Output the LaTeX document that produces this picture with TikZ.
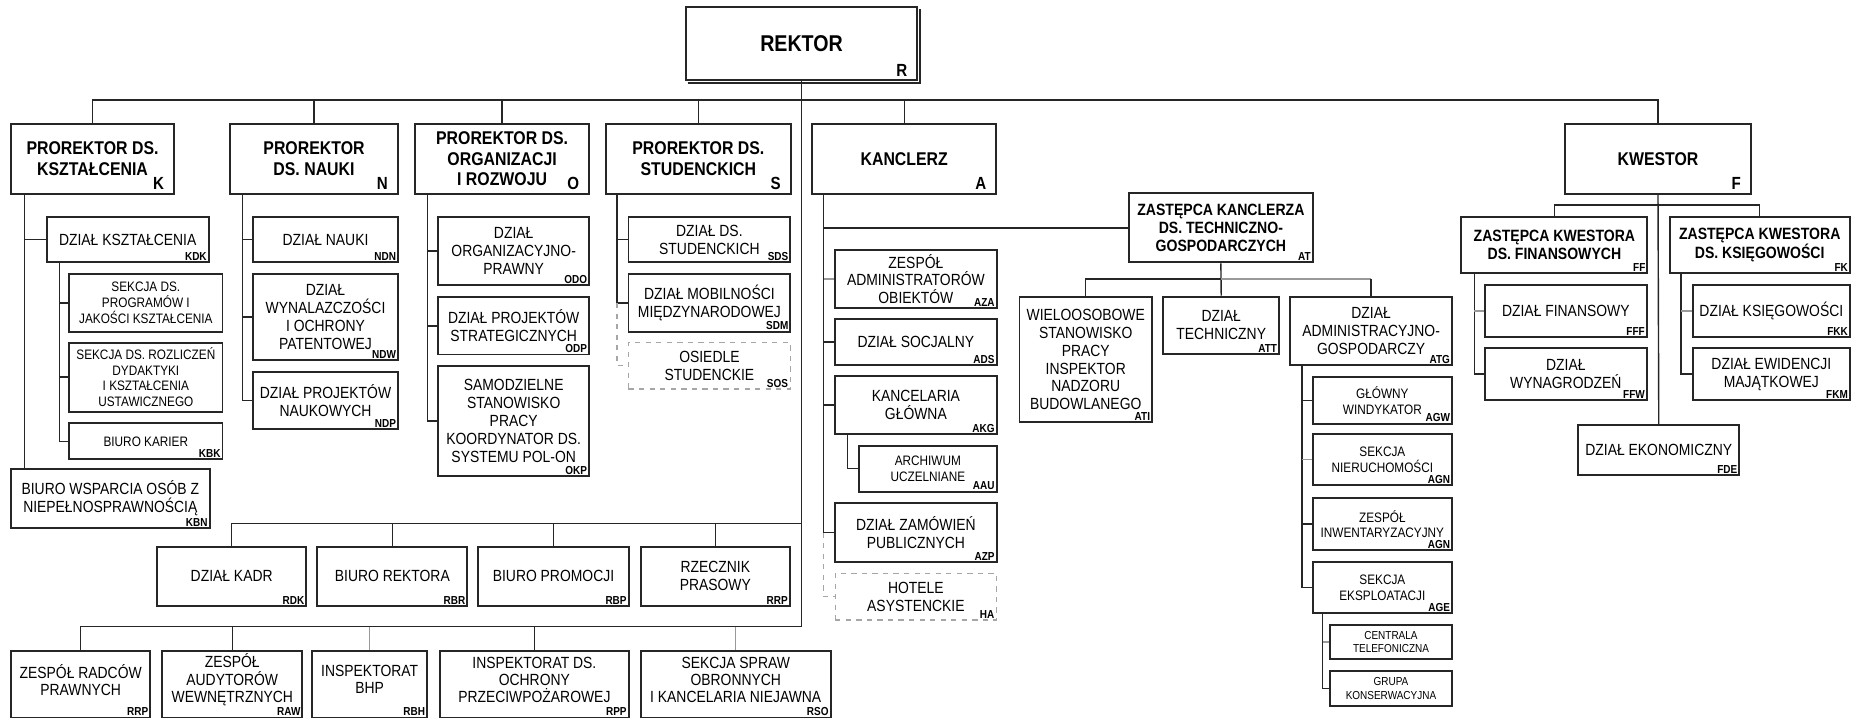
\documentclass[tikz,border=0pt]{standalone}
\usepackage{fontspec}
\setmainfont{Liberation Sans}[FakeStretch=0.86]
\usetikzlibrary{fit}

\tikzset{
  box/.style={draw=black!85, line width=1.1pt, fill=white, inner sep=0pt},
  plan/.style={draw=black!35, line width=0.8pt, dashed},
  link/.style={draw=black!85, line width=0.8pt},
  pale/.style={draw=black!40, line width=0.8pt},
  paledash/.style={draw=black!35, line width=0.8pt, dashed},
  rektortxt/.style={font=\bfseries\fontsize{13}{15}\selectfont, align=center, inner sep=0pt},
  chieftxt/.style={font=\bfseries\fontsize{10.5}{11.8}\selectfont, align=center, inner sep=0pt},
  headtxt/.style={font=\bfseries\fontsize{9.3}{10.4}\selectfont, align=center, inner sep=0pt},
  depttxt/.style={font=\fontsize{9.2}{10.2}\selectfont, align=center, inner sep=0pt},
  lowtxt/.style={font=\fontsize{9.2}{9.8}\selectfont, align=center, inner sep=0pt, yshift=2.5pt},
  minortxt/.style={font=\fontsize{7.8}{9}\selectfont, align=center, inner sep=0pt},
  tinytxt/.style={font=\fontsize{6.6}{7.6}\selectfont, align=center, inner sep=0pt},
  codetxt/.style={font=\bfseries\fontsize{6.6}{7}\selectfont, anchor=south east, inner xsep=1.5pt, inner ysep=1.3pt},
  bigcodetxt/.style={font=\bfseries\fontsize{10}{11}\selectfont, anchor=south east, inner xsep=6pt, inner ysep=2.5pt}
}

% name, corners, text, code
\newcommand{\chiefbox}[8][chieftxt]{%
  \node[box, fit={(#3,#4) (#5,#6)}] (#2) {};
  \node[#1] (#2-t) at (#2.center) {#7};
  \node[bigcodetxt] (#2-c) at (#2.south east) {#8};%
}
% [box style], name, corners, text style, text, code
\newcommand{\orgbox}[9][]{%
  \node[box, #1, fit={(#3,#4) (#5,#6)}] (#2) {};
  \node[#7] (#2-t) at (#2.center) {#8};
  \node[codetxt] (#2-c) at (#2.south east) {#9};%
}

\begin{document}
\begin{tikzpicture}[x=0.0236cm, y=-0.0236cm]
  \fill[white] (0,0) rectangle (1568,607.4);
  \useasboundingbox (0,0) rectangle (1568,607.4);

  % top level
  \chiefbox[rektortxt]{rek}{581}{6}{777}{68}{REKTOR}{R}
  \draw[black!85, line width=1.2pt] ([xshift=1.5pt,yshift=-1.1pt]rek.south west) -- ([xshift=1.1pt,yshift=-1.1pt]rek.south east) -- ([xshift=1.1pt,yshift=-1.5pt]rek.north east);
  \chiefbox{prk}{9.4}{105}{147.4}{164}{PROREKTOR DS.\\KSZTAŁCENIA}{K}
  \chiefbox{prn}{195}{105}{337}{164}{PROREKTOR\\DS. NAUKI}{N}
  \chiefbox{pro}{351.7}{105}{499}{164}{PROREKTOR DS.\\ORGANIZACJI\\I ROZWOJU}{O}
  \chiefbox{prs}{513.5}{105}{669.7}{164}{PROREKTOR DS.\\STUDENCKICH}{S}
  \chiefbox{kan}{688}{105}{844}{164}{KANCLERZ}{A}
  \chiefbox{kwe}{1326}{105}{1483}{164}{KWESTOR}{F}

  % prorektor ds. ksztalcenia
  \orgbox{kdk}{39.5}{183.6}{176.8}{222.2}{depttxt}{DZIAŁ KSZTAŁCENIA}{KDK}
  \orgbox{ksp}{58.6}{232.4}{188.5}{280.9}{minortxt}{SEKCJA DS.\\PROGRAMÓW I\\JAKOŚCI KSZTAŁCENIA}{}
  \orgbox{ksr}{58.6}{290.2}{188.5}{348.7}{minortxt}{SEKCJA DS. ROZLICZEŃ\\DYDAKTYKI\\I KSZTAŁCENIA\\USTAWICZNEGO}{}
  \orgbox{kbk}{58.6}{358.6}{188.5}{389.1}{minortxt}{BIURO KARIER}{KBK}
  \orgbox{kbn}{9.4}{397.6}{177.5}{447}{depttxt}{BIURO WSPARCIA OSÓB Z\\NIEPEŁNOSPRAWNOŚCIĄ}{KBN}

  % prorektor ds. nauki
  \orgbox{ndn}{214.3}{183.6}{337.2}{222.2}{depttxt}{DZIAŁ NAUKI}{NDN}
  \orgbox{ndw}{214.3}{232.4}{337.2}{305}{depttxt}{DZIAŁ\\WYNALAZCZOŚCI\\I OCHRONY\\PATENTOWEJ}{NDW}
  \orgbox{ndp}{214.3}{314.8}{337.2}{363.4}{depttxt}{DZIAŁ PROJEKTÓW\\NAUKOWYCH}{NDP}

  % prorektor ds. organizacji
  \orgbox{odo}{371.3}{183.6}{499}{241.5}{depttxt}{DZIAŁ\\ORGANIZACYJNO-\\PRAWNY}{ODO}
  \orgbox{odp}{371.3}{251.9}{499}{300.3}{depttxt}{DZIAŁ PROJEKTÓW\\STRATEGICZNYCH}{ODP}
  \orgbox{okp}{371.3}{310}{499}{403.3}{depttxt}{SAMODZIELNE\\STANOWISKO\\PRACY\\KOORDYNATOR DS.\\SYSTEMU POL-ON}{OKP}

  % prorektor ds. studenckich
  \orgbox{sds}{532.4}{183.6}{669.5}{222.3}{depttxt}{DZIAŁ DS.\\STUDENCKICH}{SDS}
  \orgbox{sdm}{532.4}{232.4}{669.5}{281}{depttxt}{DZIAŁ MOBILNOŚCI\\MIĘDZYNARODOWEJ}{SDM}
  \orgbox[plan]{sos}{532.4}{290}{669.5}{329.6}{depttxt}{OSIEDLE\\STUDENCKIE}{SOS}

  % kanclerz
  \orgbox{aza}{707.5}{211.8}{844.2}{261}{depttxt}{ZESPÓŁ\\ADMINISTRATORÓW\\OBIEKTÓW}{AZA}
  \orgbox{ads}{707.5}{270.5}{844.2}{309.2}{depttxt}{DZIAŁ SOCJALNY}{ADS}
  \orgbox{akg}{707.5}{318.7}{844.2}{367.6}{depttxt}{KANCELARIA\\GŁÓWNA}{AKG}
  \orgbox{aau}{727.8}{377.5}{844.2}{416.5}{minortxt}{ARCHIWUM\\UCZELNIANE}{AAU}
  \orgbox{azp}{707.5}{426.4}{844.2}{475.8}{depttxt}{DZIAŁ ZAMÓWIEŃ\\PUBLICZNYCH}{AZP}
  \orgbox[plan]{ha}{707.5}{485.7}{844.2}{525.2}{depttxt}{HOTELE\\ASYSTENCKIE}{HA}

  \orgbox{zk}{956.4}{163.8}{1112}{222.3}{headtxt}{ZASTĘPCA KANCLERZA\\DS. TECHNICZNO-\\GOSPODARCZYCH}{AT}
  \orgbox{ati}{863.6}{251.3}{975.9}{357.8}{depttxt}{WIELOOSOBOWE\\STANOWISKO\\PRACY\\INSPEKTOR\\NADZORU\\BUDOWLANEGO}{ATI}
  \orgbox{att}{985.5}{251.3}{1083.5}{299.9}{depttxt}{DZIAŁ\\TECHNICZNY}{ATT}
  \orgbox{atg}{1093}{251.3}{1230}{309.2}{depttxt}{DZIAŁ\\ADMINISTRACYJNO-\\GOSPODARCZY}{ATG}
  \orgbox{agw}{1112}{319.2}{1230}{358.9}{minortxt}{GŁÓWNY\\WINDYKATOR}{AGW}
  \orgbox{agn}{1112}{367.9}{1230}{410.8}{minortxt}{SEKCJA\\NIERUCHOMOŚCI}{AGN}
  \orgbox{agi}{1112}{422.1}{1230}{465.9}{minortxt}{ZESPÓŁ\\INWENTARYZACYJNY}{AGN}
  \orgbox{age}{1112}{475.8}{1230}{519.5}{minortxt}{SEKCJA\\EKSPLOATACJI}{AGE}
  \orgbox{act}{1126.6}{529.4}{1230}{558.5}{tinytxt}{CENTRALA\\TELEFONICZNA}{}
  \orgbox{agk}{1126.6}{568.4}{1230}{597.8}{tinytxt}{GRUPA\\KONSERWACYJNA}{}

  % kwestor
  \orgbox{zkf}{1238}{183.6}{1395.5}{231.5}{headtxt}{ZASTĘPCA KWESTORA\\DS. FINANSOWYCH}{FF}
  \orgbox{zkk}{1414.3}{183.6}{1567}{231.5}{headtxt}{ZASTĘPCA KWESTORA\\DS. KSIĘGOWOŚCI}{FK}
  \orgbox{fff}{1257.8}{241.4}{1395}{285.7}{depttxt}{DZIAŁ FINANSOWY}{FFF}
  \orgbox{ffw}{1257.8}{295}{1395}{338.8}{depttxt}{DZIAŁ\\WYNAGRODZEŃ}{FFW}
  \orgbox{fkk}{1434}{241.4}{1567}{285.7}{depttxt}{DZIAŁ KSIĘGOWOŚCI}{FKK}
  \orgbox{fkm}{1434}{295}{1567}{338.8}{depttxt}{DZIAŁ EWIDENCJI\\MAJĄTKOWEJ}{FKM}
  \orgbox{fde}{1337}{360}{1473.3}{402.3}{depttxt}{DZIAŁ EKONOMICZNY}{FDE}

  % units under the rektor
  \orgbox{rdk}{133}{463}{259.5}{513.3}{depttxt}{DZIAŁ KADR}{RDK}
  \orgbox{rbr}{268.9}{463}{395.8}{513.3}{depttxt}{BIURO REKTORA}{RBR}
  \orgbox{rbp}{405.2}{463}{532.5}{513.3}{depttxt}{BIURO PROMOCJI}{RBP}
  \orgbox{rrp}{542.9}{463}{669}{513.3}{depttxt}{RZECZNIK\\PRASOWY}{RRP}
  \orgbox{zrp}{9.4}{551.2}{127.3}{607.8}{lowtxt}{ZESPÓŁ RADCÓW\\PRAWNYCH}{RRP}
  \orgbox{zaw}{137.3}{551.2}{256.2}{607.8}{lowtxt}{ZESPÓŁ\\AUDYTORÓW\\WEWNĘTRZNYCH}{RAW}
  \orgbox{bhp}{264.6}{551.2}{361.7}{607.8}{lowtxt}{INSPEKTORAT\\BHP}{RBH}
  \orgbox{rpp}{372.8}{551.2}{532.5}{607.8}{lowtxt}{INSPEKTORAT DS.\\OCHRONY\\PRZECIWPOŻAROWEJ}{RPP}
  \orgbox{rso}{542.9}{551.2}{703.6}{607.8}{lowtxt}{SEKCJA SPRAW\\OBRONNYCH\\I KANCELARIA NIEJAWNA}{RSO}

  % connectors
  \coordinate (bus) at (0,84.7);
  \coordinate (mid) at (0,443.3);
  \coordinate (low) at (0,530.8);
  \draw[link] (prk.north) |- (bus -| kwe.north) -- (kwe.north);
  \foreach \n in {prn,pro,prs,kan} \draw[link] (\n.north) -- (\n.north |- bus);
  \draw[link] (rek.south) -- (rek.south |- low) -| (zrp.north);
  \draw[link] (rek.south |- mid) -| (rdk.north);
  \foreach \n in {rbr,rbp,rrp} \draw[link] (\n.north) -- (\n.north |- mid);
  \foreach \n in {zaw,rpp} \draw[link] (\n.north) -- (\n.north |- low);
  \foreach \n in {bhp,rso} \draw[pale] (\n.north) -- (\n.north |- low);

  \coordinate (kx) at (20.8,0);
  \draw[link] (kx |- prk.south) -- (kx |- kbn.north);
  \draw[link] (kx |- kdk.west) -- (kdk.west);
  \coordinate (kdx) at (50.2,0);
  \draw[link] (kdx |- kdk.south) |- (kbk.west);
  \foreach \n in {ksp,ksr} \draw[link] (kdx |- \n.west) -- (\n.west);

  \coordinate (nx) at (205.3,0);
  \draw[link] (nx |- prn.south) |- (ndp.west);
  \foreach \n in {ndn,ndw} \draw[link] (nx |- \n.west) -- (\n.west);

  \coordinate (ox) at (362,0);
  \draw[link] (ox |- pro.south) |- (okp.west);
  \foreach \n in {odo,odp} \draw[link] (ox |- \n.west) -- (\n.west);

  \coordinate (sx) at (522.6,0);
  \draw[link] (sx |- prs.south) |- (sdm.west);
  \draw[link] (sx |- sds.west) -- (sds.west);
  \draw[paledash] (sx |- sdm.west) |- (sos.west);

  \coordinate (ax) at (697.8,0);
  \draw[link] (ax |- kan.south) |- (azp.west);
  \draw[link] (ax |- zk.west) -- (zk.west);
  \draw[pale] (ax |- aza.west) -- (aza.west);
  \foreach \n in {ads,akg} \draw[link] (ax |- \n.west) -- (\n.west);
  \draw[paledash] (ax |- azp.west) |- (ha.west);
  \coordinate (gx) at (718.1,0);
  \draw[link] (gx |- akg.south) |- (aau.west);

  \coordinate (atb) at (0,236.5);
  \draw[link] (zk.south) -- (att.north);
  \draw[link] (ati.north) |- (atb -| att.north);
  \draw[pale] (atb -| att.north) -- (atb -| atg.north);
  \draw[link] (atb -| atg.north) -- (atg.north);
  \coordinate (tx) at (1103,0);
  \draw[link] (tx |- atg.south) |- (age.west);
  \foreach \n in {agw,agi} \draw[link] (tx |- \n.west) -- (\n.west);
  \draw[pale] (tx |- agn.west) -- (agn.west);
  \coordinate (ex) at (1120.4,0);
  \draw[link] (ex |- age.south) |- (agk.west);
  \draw[pale] (ex |- act.west) -- (act.west);

  \coordinate (fb) at (0,173.7);
  \draw[link] (kwe.south) -- (fde.north);
  \draw[link] (zkf.north) |- (fb -| zkk.north) -- (zkk.north);
  \coordinate (fx) at (1249,0);
  \draw[link] (fx |- zkf.south) |- (ffw.west);
  \draw[pale] (fx |- fff.west) -- (fff.west);
  \coordinate (fkx) at (1423.8,0);
  \draw[link] (fkx |- zkk.south) |- (fkm.west);
  \draw[pale] (fkx |- fkk.west) -- (fkk.west);
\end{tikzpicture}
\end{document}
